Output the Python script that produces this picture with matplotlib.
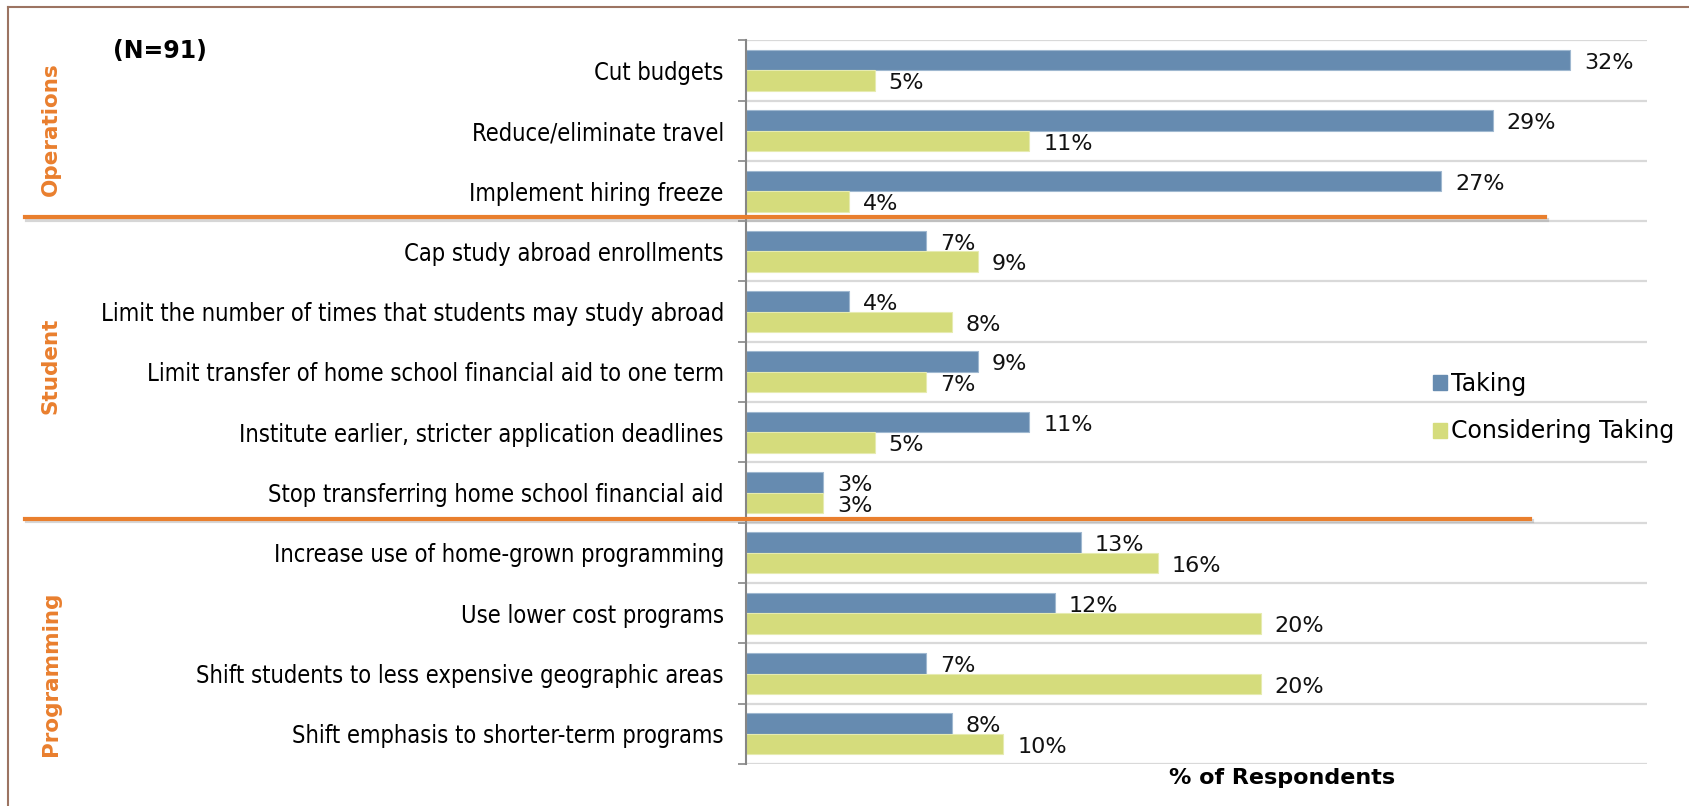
import matplotlib.pyplot as plt
import matplotlib.transforms as mtransforms
from matplotlib.lines import Line2D
from matplotlib.patches import Patch
import matplotlib.patheffects as pe
import numpy as np

# Survey: actions taken / being considered (N=91)
categories = [
    'Cut budgets',
    'Reduce/eliminate travel',
    'Implement hiring freeze',
    'Cap study abroad enrollments',
    'Limit the number of times that students may study abroad',
    'Limit transfer of home school financial aid to one term',
    'Institute earlier, stricter application deadlines',
    'Stop transferring home school financial aid',
    'Increase use of home-grown programming',
    'Use lower cost programs',
    'Shift students to less expensive geographic areas',
    'Shift emphasis to shorter-term programs',
]
taking = [32, 29, 27, 7, 4, 9, 11, 3, 13, 12, 7, 8]
considering = [5, 11, 4, 9, 8, 7, 5, 3, 16, 20, 20, 10]
groups = ['Operations', 'Student', 'Programming']
group_centers = [0.98, 4.9, 10.0]
group_breaks = [2.5, 7.5]

blue = '#668bb0'
green = '#d5dc7c'
orange = '#e97f2e'

fig = plt.figure(figsize=(16.89, 8.06), dpi=100)
ax = fig.add_axes([0.4417, 0.0521, 0.5335, 0.898])

y = np.arange(len(categories))
h = 0.34
ax.barh(y - h / 2, taking, height=h, color=blue, edgecolor='#9fb8d0', linewidth=0.8, label='Taking')
ax.barh(y + h / 2, considering, height=h, color=green, edgecolor='#e6ebb0', linewidth=0.8,
        label='Considering Taking')

for i in range(len(categories)):
    ax.annotate(f'{taking[i]}%', (taking[i], y[i] - h / 2), xytext=(10, -2),
                textcoords='offset points', va='center', ha='left', fontsize=16, color='#111111')
    ax.annotate(f'{considering[i]}%', (considering[i], y[i] + h / 2), xytext=(10, -2),
                textcoords='offset points', va='center', ha='left', fontsize=16, color='#111111')

ax.set_xlim(0, 35)
ax.set_ylim(len(categories) - 0.5, -0.5)
ax.set_yticks(y)
ax.set_yticklabels(categories, family='DejaVu Sans', fontstretch='condensed', fontsize=17)
ax.set_yticks(np.arange(-0.5, len(categories), 1), minor=True)
ax.tick_params(axis='y', which='major', length=0, pad=16)
ax.tick_params(axis='y', which='minor', length=6, color='#868686', width=1.2, direction='out')
ax.set_xticks([])
ax.grid(axis='y', which='minor', color='#d9d9d9', linewidth=1.6)
ax.set_axisbelow(True)
for s in ['top', 'right', 'bottom']:
    ax.spines[s].set_visible(False)
ax.spines['left'].set_color('#868686')
ax.spines['left'].set_linewidth(1.5)

# group separators and labels
trans = mtransforms.blended_transform_factory(fig.transFigure, ax.transData)
for yb, xr in zip(group_breaks, [0.915, 0.906]):
    ln = Line2D([0.015, xr], [yb - 0.07, yb - 0.07], transform=trans, color=orange, linewidth=3,
                clip_on=False,
                path_effects=[pe.SimpleLineShadow(offset=(1, -2), shadow_color='#999999', alpha=0.4),
                              pe.Normal()])
    fig.add_artist(ln)
for g, yc in zip(groups, group_centers):
    fig.text(0.030, yc, g, transform=trans, rotation=90, ha='center', va='center',
             color=orange, fontsize=15.5, fontweight='bold')

fig.text(0.067, 0.937, '(N=91)', fontsize=17, fontweight='bold', ha='left', va='center')
fig.text(0.759, 0.035, '% of Respondents', fontsize=16, fontweight='bold', ha='center', va='center')

handles = [Patch(color=blue), Patch(color=green)]
fig.legend(handles, ['Taking', 'Considering Taking'], loc='upper left',
           bbox_to_anchor=(0.836, 0.565), frameon=False, fontsize=17,
           handlelength=0.6, handleheight=0.6, handletextpad=0.15, labelspacing=1.0)

# slide frame
fig.add_artist(Line2D([0.0047, 0.0047], [0, 0.9913], transform=fig.transFigure, color='#9c7462', linewidth=1.5))
fig.add_artist(Line2D([0.0047, 1], [0.9913, 0.9913], transform=fig.transFigure, color='#9c7462', linewidth=1.5))

fig.savefig('out.png', dpi=100)
